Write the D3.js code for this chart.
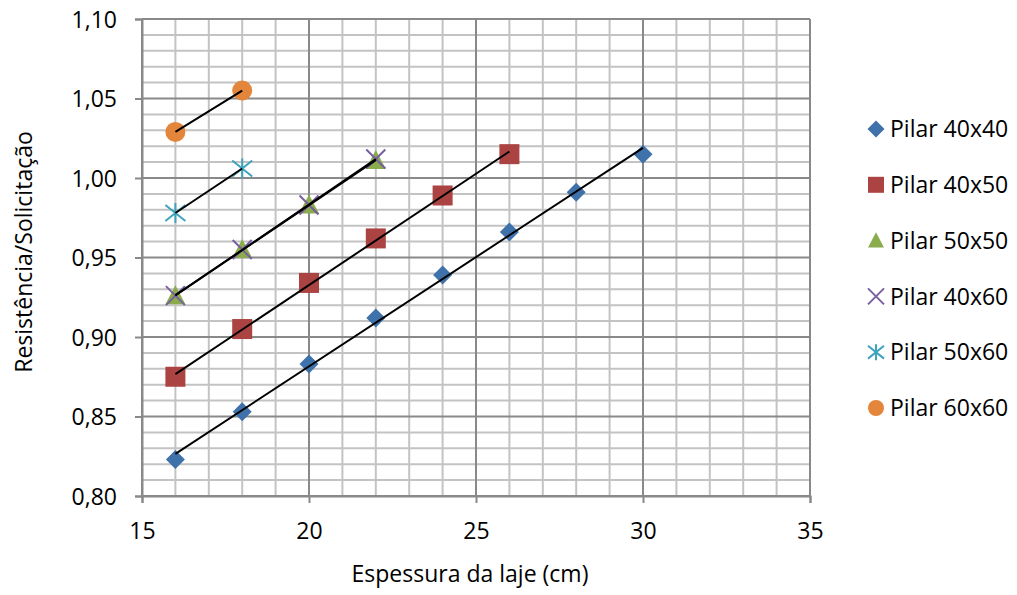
<!DOCTYPE html>
<html>
<head>
<meta charset="utf-8">
<script src="https://cdn.jsdelivr.net/npm/d3@7/dist/d3.min.js"></script>
<style>
  html, body { margin: 0; padding: 0; background: #fff; }
  svg { display: block; font-family: "Open Sans", "Noto Sans", sans-serif; }
</style>
</head>
<body>
<svg id="chart" width="1017" height="595"></svg>
<script>
// Slab thickness (cm) for each column size, and resistance/demand ratio
const seriesNames = ["Pilar 40x40", "Pilar 40x50", "Pilar 50x50", "Pilar 40x60", "Pilar 50x60", "Pilar 60x60"];
const x40x40 = [16, 18, 20, 22, 24, 26, 28, 30];
const y40x40 = [0.823, 0.853, 0.883, 0.912, 0.939, 0.966, 0.991, 1.015];
const x40x50 = [16, 18, 20, 22, 24, 26];
const y40x50 = [0.875, 0.905, 0.934, 0.962, 0.989, 1.015];
const x50x50 = [16, 18, 20, 22];
const y50x50 = [0.926, 0.955, 0.983, 1.011];
const x40x60 = [16, 18, 20, 22];
const y40x60 = [0.926, 0.955, 0.983, 1.012];
const x50x60 = [16, 18];
const y50x60 = [0.978, 1.006];
const x60x60 = [16, 18];
const y60x60 = [1.029, 1.055];

const xTicks = [15, 20, 25, 30, 35];
const yTicks = [0.80, 0.85, 0.90, 0.95, 1.00, 1.05, 1.10];
const xTitle = "Espessura da laje (cm)";
const yTitle = "Resistência/Solicitação";

const seriesX = [x40x40, x40x50, x50x50, x40x60, x50x60, x60x60];
const seriesY = [y40x40, y40x50, y50x50, y40x60, y50x60, y60x60];
const colors = ["#3f71aa", "#aa4341", "#8aac4c", "#7a5fa0", "#3ea3bd", "#e3853a"];
const shapes = ["diamond", "square", "triangle", "x", "star", "circle"];

const series = seriesNames.map((name, i) => ({
  name, color: colors[i], shape: shapes[i],
  points: seriesX[i].map((x, j) => ({ x, y: seriesY[i][j] }))
}));

const svg = d3.select("#chart");
const FS = "23px";
const L = 142, R = 810, T = 19, B = 496;
const x = d3.scaleLinear().domain([15, 35]).range([L, R]);
const y = d3.scaleLinear().domain([0.80, 1.10]).range([B, T]);

const minorColor = "#c3c3c3", majorColor = "#898989";

// Minor grid: every 1 cm and every 0.01
const grid = svg.append("g");
const minorX = d3.range(15, 35.001, 1).filter(v => v % 5 !== 0);
const minorY = d3.range(0, 31).map(k => 0.80 + k * 0.01).filter((v, k) => k % 5 !== 0);
grid.selectAll(".mx").data(minorX).join("line")
  .attr("x1", d => x(d)).attr("x2", d => x(d)).attr("y1", T).attr("y2", B)
  .attr("stroke", minorColor).attr("stroke-width", 2);
grid.selectAll(".my").data(minorY).join("line")
  .attr("x1", L).attr("x2", R).attr("y1", d => y(d)).attr("y2", d => y(d))
  .attr("stroke", minorColor).attr("stroke-width", 2);

// Major grid
grid.selectAll(".Mx").data(xTicks).join("line")
  .attr("x1", d => x(d)).attr("x2", d => x(d)).attr("y1", T).attr("y2", B)
  .attr("stroke", majorColor).attr("stroke-width", 2);
grid.selectAll(".My").data(yTicks).join("line")
  .attr("x1", L).attr("x2", R).attr("y1", d => y(d)).attr("y2", d => y(d))
  .attr("stroke", majorColor).attr("stroke-width", 2);

// Axes
const fmt = d => d.toFixed(2).replace(".", ",");
const xAxis = svg.append("g").attr("transform", `translate(0,${B})`)
  .call(d3.axisBottom(x).tickValues(xTicks).tickSize(7).tickPadding(20).tickFormat(d3.format("d")));
const yAxis = svg.append("g").attr("transform", `translate(${L},0)`)
  .call(d3.axisLeft(y).tickValues(yTicks).tickSize(7).tickPadding(18).tickFormat(fmt));
[xAxis, yAxis].forEach(a => {
  a.select(".domain").attr("stroke", majorColor).attr("stroke-width", 2);
  a.selectAll(".tick line").attr("stroke", majorColor).attr("stroke-width", 2);
  a.selectAll(".tick text").attr("fill", "#000").style("font-size", FS)
    .style("font-family", "'Open Sans', sans-serif");
});
yAxis.selectAll(".tick text").attr("dy", "0.36em");

// Marker paths centred at the origin
function markerPath(shape, s) {
  const p = d3.path();
  switch (shape) {
    case "diamond": p.moveTo(0, -s); p.lineTo(s, 0); p.lineTo(0, s); p.lineTo(-s, 0); p.closePath(); break;
    case "square": p.rect(-s, -s, 2 * s, 2 * s); break;
    case "triangle": p.moveTo(0, -s * 1.05); p.lineTo(s, s * 0.85); p.lineTo(-s, s * 0.85); p.closePath(); break;
    case "circle": p.arc(0, 0, s, 0, 2 * Math.PI); break;
    case "x": p.moveTo(-s, -s); p.lineTo(s, s); p.moveTo(s, -s); p.lineTo(-s, s); break;
    case "star": p.moveTo(-s, -s * 0.8); p.lineTo(s, s * 0.8); p.moveTo(s, -s * 0.8); p.lineTo(-s, s * 0.8);
                 p.moveTo(0, -s); p.lineTo(0, s); break;
  }
  return p.toString();
}
const markerSize = { diamond: 9.5, square: 10, triangle: 10, circle: 10, x: 9.5, star: 10 };
function drawMarker(g, shape, color, size) {
  const stroked = shape === "x" || shape === "star";
  g.append("path").attr("d", markerPath(shape, size))
    .attr("fill", stroked ? "none" : color)
    .attr("stroke", stroked ? color : "none")
    .attr("stroke-width", stroked ? 2 : 0);
}

// Data markers
const marks = svg.append("g");
series.forEach(s => {
  s.points.forEach(pt => {
    const g = marks.append("g").attr("transform", `translate(${x(pt.x)},${y(pt.y)})`);
    drawMarker(g, s.shape, s.color, markerSize[s.shape]);
  });
});

// Linear trend lines (least squares) over each series' range
const trends = svg.append("g");
series.forEach(s => {
  const mx = d3.mean(s.points, d => d.x), my = d3.mean(s.points, d => d.y);
  const sxy = d3.sum(s.points, d => (d.x - mx) * (d.y - my));
  const sxx = d3.sum(s.points, d => (d.x - mx) ** 2);
  const b = sxy / sxx, a = my - b * mx;
  const [x0, x1] = d3.extent(s.points, d => d.x);
  trends.append("line")
    .attr("x1", x(x0)).attr("y1", y(a + b * x0))
    .attr("x2", x(x1)).attr("y2", y(a + b * x1))
    .attr("stroke", "#000").attr("stroke-width", 2);
});

// Legend
const legend = svg.append("g");
series.forEach((s, i) => {
  const cy = 129 + i * 55.8;
  const g = legend.append("g").attr("transform", `translate(876,${cy})`);
  drawMarker(g, s.shape, s.color, s.shape === "diamond" ? 8.5 : 8);
  legend.append("text").attr("x", 890).attr("y", cy).attr("dy", "0.36em")
    .style("font-size", FS).text(s.name);
});

// Axis titles
svg.append("text").attr("x", 470).attr("y", 582)
  .attr("text-anchor", "middle").style("font-size", FS).text(xTitle);
svg.append("text").attr("transform", `translate(32,252) rotate(-90)`)
  .attr("text-anchor", "middle").style("font-size", FS).text(yTitle);
</script>
</body>
</html>
